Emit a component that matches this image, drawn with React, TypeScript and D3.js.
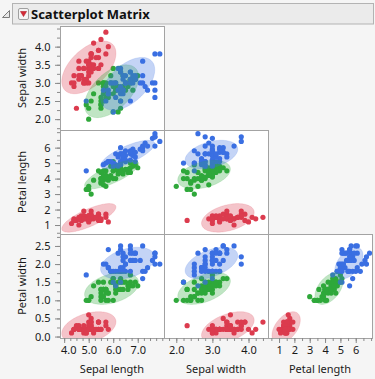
import React, { useRef, useEffect } from 'react';
import * as d3 from 'd3';

// Fisher's iris data, three species of 50 rows each
const speciesSizes = [50, 50, 50];
const sepalLength = [
    5.1, 4.9, 4.7, 4.6, 5.0, 5.4, 4.6, 5.0, 4.4, 4.9, 5.4, 4.8, 4.8, 4.3, 5.8, 5.7, 5.4, 5.1, 5.7, 5.1, 5.4, 5.1, 4.6, 5.1, 4.8,
    5.0, 5.0, 5.2, 5.2, 4.7, 4.8, 5.4, 5.2, 5.5, 4.9, 5.0, 5.5, 4.9, 4.4, 5.1, 5.0, 4.5, 4.4, 5.0, 5.1, 4.8, 5.1, 4.6, 5.3, 5.0,
    7.0, 6.4, 6.9, 5.5, 6.5, 5.7, 6.3, 4.9, 6.6, 5.2, 5.0, 5.9, 6.0, 6.1, 5.6, 6.7, 5.6, 5.8, 6.2, 5.6, 5.9, 6.1, 6.3, 6.1, 6.4,
    6.6, 6.8, 6.7, 6.0, 5.7, 5.5, 5.5, 5.8, 6.0, 5.4, 6.0, 6.7, 6.3, 5.6, 5.5, 5.5, 6.1, 5.8, 5.0, 5.6, 5.7, 5.7, 6.2, 5.1, 5.7,
    6.3, 5.8, 7.1, 6.3, 6.5, 7.6, 4.9, 7.3, 6.7, 7.2, 6.5, 6.4, 6.8, 5.7, 5.8, 6.4, 6.5, 7.7, 7.7, 6.0, 6.9, 5.6, 7.7, 6.3, 6.7,
    7.2, 6.2, 6.1, 6.4, 7.2, 7.4, 7.9, 6.4, 6.3, 6.1, 7.7, 6.3, 6.4, 6.0, 6.9, 6.7, 6.9, 5.8, 6.8, 6.7, 6.7, 6.3, 6.5, 6.2, 5.9,
];
const sepalWidth = [
    3.5, 3.0, 3.2, 3.1, 3.6, 3.9, 3.4, 3.4, 2.9, 3.1, 3.7, 3.4, 3.0, 3.0, 4.0, 4.4, 3.9, 3.5, 3.8, 3.8, 3.4, 3.7, 3.6, 3.3, 3.4,
    3.0, 3.4, 3.5, 3.4, 3.2, 3.1, 3.4, 4.1, 4.2, 3.1, 3.2, 3.5, 3.6, 3.0, 3.4, 3.5, 2.3, 3.2, 3.5, 3.8, 3.0, 3.8, 3.2, 3.7, 3.3,
    3.2, 3.2, 3.1, 2.3, 2.8, 2.8, 3.3, 2.4, 2.9, 2.7, 2.0, 3.0, 2.2, 2.9, 2.9, 3.1, 3.0, 2.7, 2.2, 2.5, 3.2, 2.8, 2.5, 2.8, 2.9,
    3.0, 2.8, 3.0, 2.9, 2.6, 2.4, 2.4, 2.7, 2.7, 3.0, 3.4, 3.1, 2.3, 3.0, 2.5, 2.6, 3.0, 2.6, 2.3, 2.7, 3.0, 2.9, 2.9, 2.5, 2.8,
    3.3, 2.7, 3.0, 2.9, 3.0, 3.0, 2.5, 2.9, 2.5, 3.6, 3.2, 2.7, 3.0, 2.5, 2.8, 3.2, 3.0, 3.8, 2.6, 2.2, 3.2, 2.8, 2.8, 2.7, 3.3,
    3.2, 2.8, 3.0, 2.8, 3.0, 2.8, 3.8, 2.8, 2.8, 2.6, 3.0, 3.4, 3.1, 3.0, 3.1, 3.1, 3.1, 2.7, 3.2, 3.3, 3.0, 2.5, 3.0, 3.4, 3.0,
];
const petalLength = [
    1.4, 1.4, 1.3, 1.5, 1.4, 1.7, 1.4, 1.5, 1.4, 1.5, 1.5, 1.6, 1.4, 1.1, 1.2, 1.5, 1.3, 1.4, 1.7, 1.5, 1.7, 1.5, 1.0, 1.7, 1.9,
    1.6, 1.6, 1.5, 1.4, 1.6, 1.6, 1.5, 1.5, 1.4, 1.5, 1.2, 1.3, 1.4, 1.3, 1.5, 1.3, 1.3, 1.3, 1.6, 1.9, 1.4, 1.6, 1.4, 1.5, 1.4,
    4.7, 4.5, 4.9, 4.0, 4.6, 4.5, 4.7, 3.3, 4.6, 3.9, 3.5, 4.2, 4.0, 4.7, 3.6, 4.4, 4.5, 4.1, 4.5, 3.9, 4.8, 4.0, 4.9, 4.7, 4.3,
    4.4, 4.8, 5.0, 4.5, 3.5, 3.8, 3.7, 3.9, 5.1, 4.5, 4.5, 4.7, 4.4, 4.1, 4.0, 4.4, 4.6, 4.0, 3.3, 4.2, 4.2, 4.2, 4.3, 3.0, 4.1,
    6.0, 5.1, 5.9, 5.6, 5.8, 6.6, 4.5, 6.3, 5.8, 6.1, 5.1, 5.3, 5.5, 5.0, 5.1, 5.3, 5.5, 6.7, 6.9, 5.0, 5.7, 4.9, 6.7, 4.9, 5.7,
    6.0, 4.8, 4.9, 5.6, 5.8, 6.1, 6.4, 5.6, 5.1, 5.6, 6.1, 5.6, 5.5, 4.8, 5.4, 5.6, 5.1, 5.1, 5.9, 5.7, 5.2, 5.0, 5.2, 5.4, 5.1,
];
const petalWidth = [
    0.2, 0.2, 0.2, 0.2, 0.2, 0.4, 0.3, 0.2, 0.2, 0.1, 0.2, 0.2, 0.1, 0.1, 0.2, 0.4, 0.4, 0.3, 0.3, 0.3, 0.2, 0.4, 0.2, 0.5, 0.2,
    0.2, 0.4, 0.2, 0.2, 0.2, 0.2, 0.4, 0.1, 0.2, 0.2, 0.2, 0.2, 0.1, 0.2, 0.2, 0.3, 0.3, 0.2, 0.6, 0.4, 0.3, 0.2, 0.2, 0.2, 0.2,
    1.4, 1.5, 1.5, 1.3, 1.5, 1.3, 1.6, 1.0, 1.3, 1.4, 1.0, 1.5, 1.0, 1.4, 1.3, 1.4, 1.5, 1.0, 1.5, 1.1, 1.8, 1.3, 1.5, 1.2, 1.3,
    1.4, 1.4, 1.7, 1.5, 1.0, 1.1, 1.0, 1.2, 1.6, 1.5, 1.6, 1.5, 1.3, 1.3, 1.3, 1.2, 1.4, 1.2, 1.0, 1.3, 1.2, 1.3, 1.3, 1.1, 1.3,
    2.5, 1.9, 2.1, 1.8, 2.2, 2.1, 1.7, 1.8, 1.8, 2.5, 2.0, 1.9, 2.1, 2.0, 2.4, 2.3, 1.8, 2.2, 2.3, 1.5, 2.3, 2.0, 2.0, 1.8, 2.1,
    1.8, 1.8, 1.8, 2.1, 1.6, 1.9, 2.0, 2.2, 1.5, 1.4, 2.3, 2.4, 1.8, 1.8, 2.1, 2.4, 2.3, 1.9, 2.3, 2.5, 2.3, 1.9, 2.0, 2.3, 1.8,
];

const varNames = ['Sepal length', 'Sepal width', 'Petal length', 'Petal width'];
const varDecimals = [1, 1, 0, 1];

// matrix: rows are variables 1..3, columns are variables 0..2 (lower triangle)
const xDomains = [[3.83, 8.07], [1.66, 4.54], [0.28, 7.06]];
const yDomains = [[1.70, 4.57], [0.42, 7.14], [-0.04, 2.83]];
const xLabelTicks = [[4, 5, 6, 7], [2, 3, 4], [1, 2, 3, 4, 5, 6]];
const xMinorStep = [0.25, 0.2, 0.5];
const yLabelTicks = [[2, 2.5, 3, 3.5, 4], [1, 2, 3, 4, 5, 6], [0, 0.5, 1, 1.5, 2, 2.5]];
const yMinorStep = [0.25, 0.5, 0.25];

const pointColors = ['#dc3b4e', '#2fa83a', '#3a6fe2'];
const ellipseCoverage = 0.9;

const FONT = '"Noto Sans", "Open Sans", sans-serif';

const ScatterMatrix: React.FC = () => {
    const svgRef = useRef<SVGSVGElement | null>(null);

    useEffect(() => {
        if (!svgRef.current) return;
        const svg = d3.select(svgRef.current);
        svg.selectAll('*').remove();

        const width = 375;
        const height = 379;
        const left = 60, top = 26, cell = 104;

        const cols = [sepalLength, sepalWidth, petalLength, petalWidth];
        const group: number[] = [];
        speciesSizes.forEach((n, g) => { for (let i = 0; i < n; i++) group.push(g); });
        const N = group.length;

        // group means and pooled within-group covariance
        const means = speciesSizes.map((_, g) =>
            cols.map(c => d3.mean(c.filter((_, i) => group[i] === g)) as number));
        const cov = cols.map((a, ia) => cols.map((b, ib) => {
            let s = 0;
            for (let i = 0; i < N; i++) {
                const g = group[i];
                s += (a[i] - means[g][ia]) * (b[i] - means[g][ib]);
            }
            return s / (N - speciesSizes.length);
        }));
        const k = Math.sqrt(-2 * Math.log(1 - ellipseCoverage));

        svg.append('rect').attr('width', width).attr('height', height).attr('fill', '#f5f5f5');

        // header
        svg.append('path')
            .attr('d', 'M2.5,17.5 L9.5,10.5 L9.5,17.5 Z')
            .attr('fill', '#e8e8e8').attr('stroke', '#7a7a7a');
        svg.append('rect')
            .attr('x', 12.5).attr('y', 3.5).attr('width', 361).attr('height', 20.5)
            .attr('fill', '#ebebeb').attr('stroke', '#b3b3b3');
        svg.append('rect')
            .attr('x', 18.5).attr('y', 8.5).attr('width', 10).attr('height', 11).attr('rx', 1.5)
            .attr('fill', '#f4f4f4').attr('stroke', '#a0a0a0');
        svg.append('path')
            .attr('d', 'M20.5,11.5 L26.5,11.5 L23.5,16.5 Z')
            .attr('fill', '#d42a36').attr('stroke', '#b01e2a').attr('stroke-width', 0.6);
        svg.append('text')
            .attr('x', 31).attr('y', 18.5)
            .style('font-family', FONT).style('font-size', '13px').style('font-weight', 'bold')
            .attr('fill', '#111')
            .text('Scatterplot Matrix');

        const xScales = xDomains.map((d, j) =>
            d3.scaleLinear().domain(d).range([left + j * cell, left + (j + 1) * cell]));
        const yScales = yDomains.map((d, i) =>
            d3.scaleLinear().domain(d).range([top + (i + 1) * cell, top + i * cell]));

        const minorTicks = (d: number[], step: number) =>
            d3.range(Math.ceil(d[0] / step - 1e-9), Math.floor(d[1] / step + 1e-9) + 1).map(v => v * step);

        const styleAxis = (g: d3.Selection<SVGGElement, unknown, null, undefined>) => {
            g.select('.domain').remove();
            g.selectAll('line').attr('stroke', '#8a8a8a');
            g.selectAll('text')
                .attr('fill', '#1a1a1a')
                .style('font-family', FONT).style('font-size', '11px');
        };

        const defs = svg.append('defs');

        for (let i = 0; i < 3; i++) {
            for (let j = 0; j <= i; j++) {
                const xv = j, yv = i + 1;
                const x = xScales[j], y = yScales[i];
                const px = left + j * cell, py = top + i * cell;
                const clipId = `clip-${i}-${j}`;
                defs.append('clipPath').attr('id', clipId)
                    .append('rect').attr('x', px).attr('y', py).attr('width', cell).attr('height', cell);

                const panel = svg.append('g');
                panel.append('rect')
                    .attr('x', px).attr('y', py).attr('width', cell).attr('height', cell)
                    .attr('fill', '#fff');

                const inner = panel.append('g').attr('clip-path', `url(#${clipId})`);
                inner.selectAll('circle')
                    .data(d3.range(N))
                    .enter().append('circle')
                    .attr('cx', d => x(cols[xv][d]))
                    .attr('cy', d => y(cols[yv][d]))
                    .attr('r', 2.6)
                    .attr('fill', d => pointColors[group[d]]);

                const line = d3.line<[number, number]>()
                    .x(d => x(d[0])).y(d => y(d[1]))
                    .curve(d3.curveLinearClosed);
                const l11 = Math.sqrt(cov[xv][xv]);
                const l21 = cov[xv][yv] / l11;
                const l22 = Math.sqrt(cov[yv][yv] - l21 * l21);
                speciesSizes.forEach((_, g) => {
                    const pts: [number, number][] = d3.range(120).map(s => {
                        const t = (s / 120) * 2 * Math.PI;
                        return [
                            means[g][xv] + k * l11 * Math.cos(t),
                            means[g][yv] + k * (l21 * Math.cos(t) + l22 * Math.sin(t)),
                        ];
                    });
                    inner.append('path')
                        .attr('d', line(pts) as string)
                        .attr('fill', pointColors[g]).attr('fill-opacity', 0.3)
                        .attr('stroke', pointColors[g]).attr('stroke-opacity', 0.15);
                });

                panel.append('rect')
                    .attr('x', px + 0.5).attr('y', py + 0.5).attr('width', cell).attr('height', cell)
                    .attr('fill', 'none').attr('stroke', '#a3a3a3');
            }
        }

        // left axes (one per row)
        yScales.forEach((y, i) => {
            const yv = i + 1;
            const gMinor = svg.append('g').attr('transform', `translate(${left},0)`)
                .call(d3.axisLeft(y).tickValues(minorTicks(yDomains[i], yMinorStep[i])).tickSize(3).tickFormat(() => ''));
            styleAxis(gMinor);
            const gMajor = svg.append('g').attr('transform', `translate(${left},0)`)
                .call(d3.axisLeft(y).tickValues(yLabelTicks[i]).tickSize(5).tickPadding(4.5)
                    .tickFormat(d => d3.format(`.${varDecimals[yv]}f`)(d as number)));
            styleAxis(gMajor);

            svg.append('text')
                .attr('transform', `translate(25.5,${top + i * cell + cell / 2}) rotate(-90)`)
                .attr('text-anchor', 'middle')
                .style('font-family', FONT).style('font-size', '11px')
                .attr('fill', '#1a1a1a')
                .text(varNames[yv]);
        });

        // bottom axes (one per column)
        const bottom = top + 3 * cell;
        xScales.forEach((x, j) => {
            const gMinor = svg.append('g').attr('transform', `translate(0,${bottom})`)
                .call(d3.axisBottom(x).tickValues(minorTicks(xDomains[j], xMinorStep[j])).tickSize(3).tickFormat(() => ''));
            styleAxis(gMinor);
            const gMajor = svg.append('g').attr('transform', `translate(0,${bottom})`)
                .call(d3.axisBottom(x).tickValues(xLabelTicks[j]).tickSize(5).tickPadding(3)
                    .tickFormat(d => d3.format(`.${varDecimals[j]}f`)(d as number)));
            styleAxis(gMajor);

            // keep labels inside the column, as the reference does
            const x0 = left + j * cell;
            gMajor.selectAll<SVGTextElement, number>('text').each(function (d) {
                const w = this.getComputedTextLength();
                const cx = x(d);
                if (cx - w / 2 < x0) d3.select(this).attr('x', x0 - cx + w / 2 + 0.5);
            });

            svg.append('text')
                .attr('x', x0 + cell / 2).attr('y', 372.5)
                .attr('text-anchor', 'middle')
                .style('font-family', FONT).style('font-size', '11px')
                .attr('fill', '#1a1a1a')
                .text(varNames[j]);
        });
    }, []);

    return (
        <svg ref={svgRef} width="375" height="379"
            style={{ position: 'absolute', left: 0, top: 0, display: 'block' }}></svg>
    );
};

export default function App() {
    return <ScatterMatrix />;
}
